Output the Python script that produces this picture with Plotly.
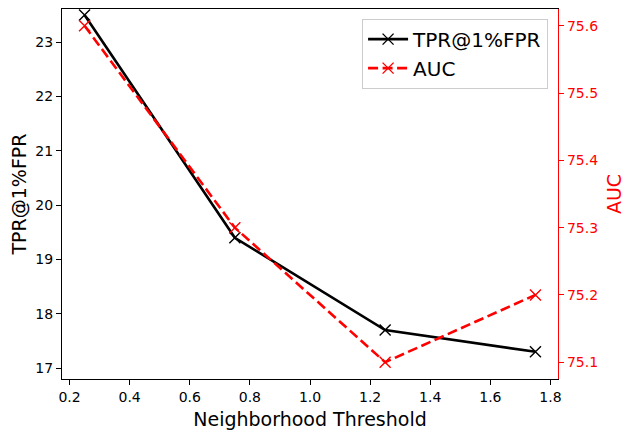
#imports
import plotly.graph_objects as go

#data
thresholds = [0.25, 0.75, 1.25, 1.75]
tpr_values = [23.5, 19.4, 17.7, 17.3]
auc_values = [75.6, 75.3, 75.1, 75.2]

x_ticks = [0.2, 0.4, 0.6, 0.8, 1.0, 1.2, 1.4, 1.6, 1.8]
tpr_ticks = [17, 18, 19, 20, 21, 22, 23]
auc_ticks = [75.1, 75.2, 75.3, 75.4, 75.5, 75.6]

font_name = "DejaVu Sans"

# the page body adds an 8px margin, so the figure is 8px smaller and shifted
page_pad = 8


def build_figure():
    fig = go.Figure()

    # left axis series
    fig.add_trace(go.Scatter(
        x=thresholds, y=tpr_values, name="TPR@1%FPR", mode="lines+markers",
        line=dict(color="black", width=2.6),
        marker=dict(symbol="x-thin", size=11, line=dict(color="black", width=1.4)),
    ))
    # right axis series
    fig.add_trace(go.Scatter(
        x=thresholds, y=auc_values, name="AUC", mode="lines+markers", yaxis="y2",
        line=dict(color="red", width=2.6, dash="10px,4.5px"),
        marker=dict(symbol="x-thin", size=11, line=dict(color="red", width=1.4)),
    ))

    fig.update_layout(
        width=633 - page_pad, height=437 - page_pad,
        margin=dict(l=62 - page_pad, r=75, t=9 - page_pad, b=58, pad=0),
        paper_bgcolor="white", plot_bgcolor="white",
        font=dict(family=font_name, size=14, color="black"),
        xaxis=dict(
            range=[0.175, 1.825], tickvals=x_ticks, ticktext=[f"{v:.1f}" for v in x_ticks],
            showgrid=False, zeroline=False, showline=True, linecolor="black", linewidth=1.2,
            mirror=True, ticks="outside", ticklen=5, tickcolor="black", automargin=False,
            title=dict(text="Neighborhood Threshold", font=dict(size=19), standoff=8),
        ),
        yaxis=dict(
            range=[16.80, 23.61], tickvals=tpr_ticks,
            showgrid=False, zeroline=False, showline=True, linecolor="black", linewidth=1.2,
            ticks="outside", ticklen=5, tickcolor="black", automargin=False,
            title=dict(text="TPR@1%FPR", font=dict(size=19), standoff=10),
        ),
        yaxis2=dict(
            range=[75.075, 75.625], tickvals=auc_ticks, ticktext=[f"{v:.1f}" for v in auc_ticks],
            overlaying="y", side="right",
            showgrid=False, zeroline=False, showline=True, linecolor="red", linewidth=1.2,
            ticks="outside", ticklen=5, tickcolor="red", tickfont=dict(color="red"),
            automargin=False,
            title=dict(text="AUC", font=dict(size=19, color="red"), standoff=10),
        ),
        legend=dict(
            x=0.98, y=0.974, xanchor="right", yanchor="top",
            font=dict(size=20), bgcolor="white", bordercolor="#cccccc", borderwidth=1,
            itemwidth=40, tracegroupgap=2,
        ),
        showlegend=True,
    )
    return fig


fig = build_figure()
fig.write_html("out.html")
